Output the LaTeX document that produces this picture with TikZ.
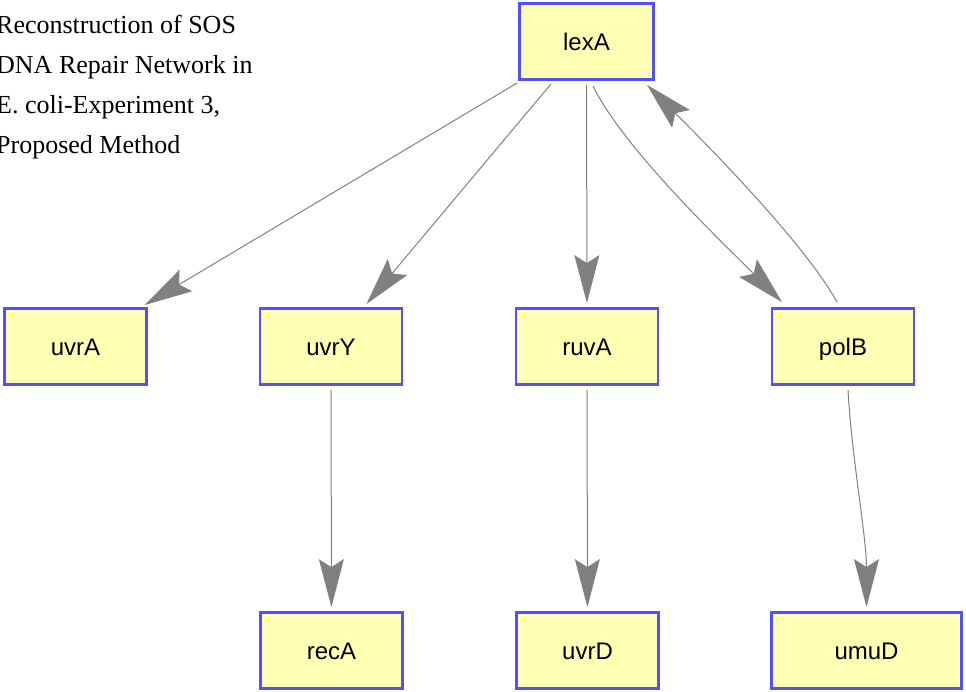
\documentclass[tikz,border=0pt]{standalone}
\usepackage{fontspec}
\setmainfont{Liberation Serif}
\newfontfamily\nodefont{Liberation Sans}
\usetikzlibrary{arrows.meta}
\definecolor{boxfill}{RGB}{255,255,180}
\definecolor{boxline}{RGB}{80,80,255}
\definecolor{edgegray}{RGB}{128,128,128}
\begin{document}
\begin{tikzpicture}[x=1pt,y=-1pt,
  gene/.style={draw=boxline, fill=boxfill, line width=2.8pt, minimum width=142pt,
    minimum height=76pt, inner sep=0pt, font=\nodefont\fontsize{24}{28}\selectfont,
    text height=17.5pt, text depth=0pt},
  edge/.style={draw=edgegray, line width=1pt,
    -{Stealth[length=48pt,width=25pt,inset=8pt,fill=edgegray]}},
  arr/.style={edge, shorten <=4pt, shorten >=4pt},
  ttl/.style={anchor=base west, inner sep=0pt, font=\fontsize{26}{40}\selectfont}]
\useasboundingbox (0,0) rectangle (966,691);
% title
\node[ttl] (t1) at (-4,33) {Reconstruction of SOS};
\node[ttl] (t2) at (-4,73) {DNA Repair Network in};
\node[ttl] (t3) at (-4,113) {E. coli-Experiment 3,};
\node[ttl] (t4) at (-4,153) {Proposed Method};
% nodes
\node[gene, minimum width=134pt] (lexA) at (586.5,41.5) {lexA};
\node[gene] (uvrA) at (75.5,346.5) {uvrA};
\node[gene] (uvrY) at (331,346.5) {uvrY};
\node[gene] (ruvA) at (587,346.5) {ruvA};
\node[gene] (polB) at (843,346.5) {polB};
\node[gene] (recA) at (331.5,650.5) {recA};
\node[gene] (uvrD) at (587.5,650.5) {uvrD};
\node[gene, minimum width=190pt] (umuD) at (866.5,650.5) {umuD};
% edges
\draw[arr] (lexA) -- (uvrA);
\draw[arr] (lexA) -- (uvrY);
\draw[arr] (lexA) -- (ruvA);
\draw[arr] (uvrY) -- (recA);
\draw[arr] (ruvA) -- (uvrD);
\draw[edge] ([xshift=6.5pt,yshift=-5pt]lexA.south) .. controls +(30,62) and +(-60,-60) .. ([xshift=-61pt,yshift=5pt]polB.north);
\draw[edge] ([xshift=-6pt,yshift=5pt]polB.north) .. controls +(-33,-60) and +(55,55) .. ([xshift=60.5pt,yshift=-4pt]lexA.south);
\draw[edge] ([xshift=5pt,yshift=-4pt]polB.south) .. controls +(4,70) and +(0,-70) .. ([yshift=4pt]umuD.north);
\end{tikzpicture}
\end{document}
